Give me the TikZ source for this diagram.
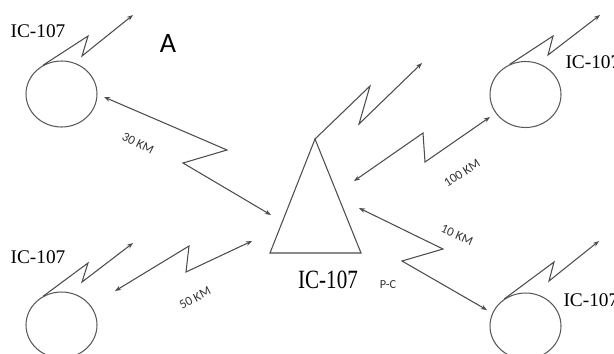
\documentclass[tikz,border=0pt]{standalone}
\usepackage{fontspec}
\setmainfont{Liberation Serif}
\newfontfamily\kmfont{Carlito}
\usetikzlibrary{arrows.meta, shapes.geometric}

\begin{document}
\begin{tikzpicture}[x=0.02cm, y=-0.02cm, line width=0.6pt, >={Stealth[length=3.5pt,width=2.6pt]}]
	\tikzstyle{station}=[
	draw=black!65,
	ellipse,
	minimum width=1.42cm,
	minimum height=1.32cm,
	inner sep=0pt
	]
	\tikzstyle{bolt}=[->, draw=black!70]
	\tikzstyle{link}=[<->, draw=black!70]
	\tikzstyle{icname}=[font=\fontsize{11}{12}\selectfont, inner sep=0pt]
	\tikzstyle{dist}=[font=\kmfont\fontsize{7.3}{8}\selectfont, text=black!80, inner sep=0pt]
	\useasboundingbox (0,0) rectangle (614,353);
	% stations
	\node[station] (S1) at (61.5,94) {};
	\node[station] (S2) at (525.5,94.5) {};
	\node[station] (S3) at (61.5,325) {};
	\node[station] (S4) at (525.5,326) {};
	\node[icname] (N1) at (38,31) {IC-107};
	\node[icname, anchor=west] (N2) at (565,62) {IC-107};
	\node[icname] (N3) at (38,257) {IC-107};
	\node[icname, anchor=west] (N4) at (563,300) {IC-107};
	\node[font=\kmfont\fontsize{16}{18}\selectfont, inner sep=0pt] (A) at (168,43) {A};
	% central station
	\coordinate (P) at (315,139);
	\coordinate (PL) at (270,253);
	\coordinate (PR) at (361,253);
	\draw[draw=black!70] (P) -- (PL) -- (PR) -- cycle;
	\node[icname, font=\fontsize{12}{14}\selectfont] (NP) at (328,280) {\scalebox{1}[1.25]{IC-107}};
	\node[dist, font=\kmfont\fontsize{7}{8}\selectfont] (PC) at (388,285) {P-C};
	% antennas
	\coordinate (T1) at (133,15);
	\coordinate (T2) at (600,15);
	\coordinate (T3) at (133,243);
	\coordinate (T4) at (599,241);
	\coordinate (TP) at (422,63);
	\draw[bolt] (S1.123) -- (88,36) -- (82,56) -- (T1);
	\draw[bolt] (S2.118) -- (553,36) -- (548,55) -- (T2);
	\draw[bolt] (S3.122) -- (88,263) -- (82,282) -- (T3);
	\draw[bolt] (S4.128) -- (554,262) -- (549,281) -- (T4);
	\draw[bolt] (P) -- (370,86) -- (359,124) -- (TP);
	% links
	\coordinate (a1) at (104,97);  \coordinate (b1) at (271,215);
	\coordinate (a2) at (354,181); \coordinate (b2) at (490,117);
	\coordinate (a3) at (359,208); \coordinate (b3) at (487,310);
	\coordinate (a4) at (115,291); \coordinate (b4) at (252,241);
	\draw[link] (a1) -- (227,150) -- (183,163) -- (b1);
	\draw[link] (a2) -- (423,133) -- (425,162) -- (b2);
	\draw[link] (a3) -- (443,249) -- (402,261) -- (b3);
	\draw[link] (a4) -- (189,246) -- (186,272) -- (b4);
	\node[dist, rotate=-27] (D1) at (138,143) {30 KM};
	\node[dist, rotate=33] (D2) at (462,173) {100 KM};
	\node[dist, rotate=-24] (D3) at (457,235) {10 KM};
	\node[dist, rotate=28] (D4) at (195,298) {50 KM};
\end{tikzpicture}
\end{document}
